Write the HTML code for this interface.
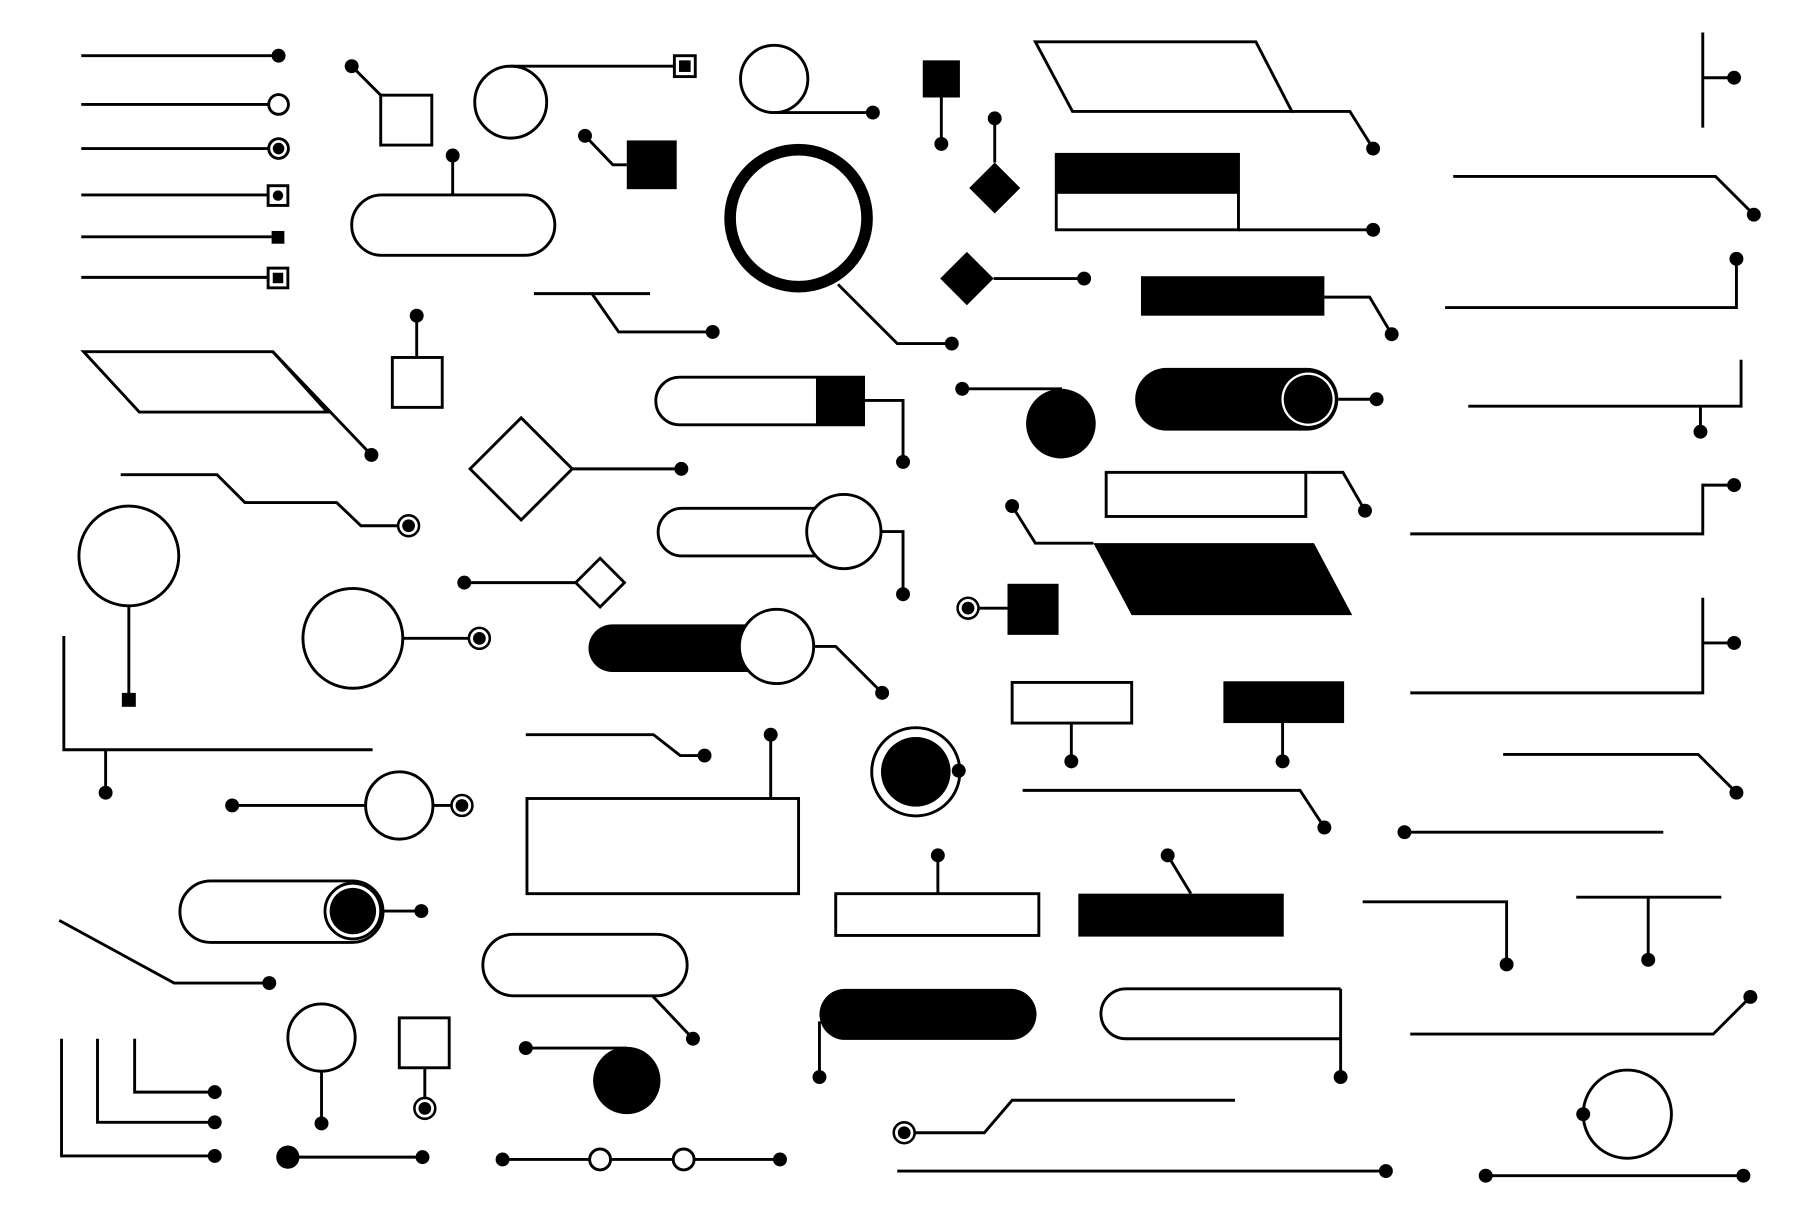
<!DOCTYPE html>
<html><head><meta charset="utf-8"><style>html,body{margin:0;padding:0;background:#fff}svg{display:block}</style></head>
<body>
<svg width="1820" height="1214" viewBox="0 0 1568 1046" preserveAspectRatio="none" xmlns="http://www.w3.org/2000/svg">
<defs>
<g id="d"><circle r="6" fill="#000"/></g>
<g id="m"><circle r="9" fill="#fff" stroke="#000" stroke-width="2.2"/><circle r="5.5" fill="#000"/></g>
</defs>
<g fill="none" stroke="#000" stroke-width="2.5">
<path d="M70 48H240M70 90H232M70 128H232M70 168H231M70 204H234M70 239H231"/>
<circle cx="240" cy="90" r="8.5" fill="#fff"/>
<rect x="231" y="160" width="17" height="17" fill="#fff"/>
<rect x="231" y="231" width="17" height="17" fill="#fff"/>
<path d="M303 57L328 82"/><rect x="328" y="82" width="44" height="43"/>
<circle cx="440" cy="88" r="31"/><path d="M440 57H582"/>
<rect x="581" y="48" width="18" height="18" fill="#fff"/>
<circle cx="667" cy="68" r="29"/><path d="M667 97H752"/>
<path d="M811 84V124M857 102V140"/>
<path d="M892 36H1082L1113 96H924Z"/><path d="M1113 96H1163L1183 128"/>
<path d="M1467 28V110M1467 67H1494"/>
<path d="M504 117L528 142H540"/>
<rect x="303" y="168" width="175" height="52" rx="26"/><path d="M390 134V168"/>
<circle cx="688" cy="188" r="59" stroke-width="10"/><path d="M722 245L773 296H820"/>
<rect x="910" y="133" width="157" height="65"/><path d="M1067 198H1183"/>
<path d="M1252 152H1478L1511 185"/>
<path d="M856 240H934"/>
<path d="M1141 256H1180L1199 288"/>
<path d="M1245 265H1496V223"/>
<path d="M460 253H560M510 253L533 286H614"/>
<path d="M359 272V308"/><rect x="338" y="308" width="43" height="43"/>
<path d="M72 303H235L282 355H120Z"/><path d="M235 303L320 392"/>
<path d="M744 325H585.5A20.5 20.5 0 0 0 585.5 366H744Z"/>
<path d="M744 345H778V398"/>
<path d="M829 335H915"/>
<path d="M1153 344H1186"/>
<path d="M1265 350H1500V310M1465 350V372"/>
<path d="M449 360L493 404L449 448L405 404Z"/><path d="M493 404H587"/>
<path d="M104 409H187L211 433H290L311 453H345"/>
<rect x="953" y="407" width="172" height="38"/><path d="M1125 407H1157L1176 440"/>
<path d="M1215 460H1467V418H1494"/>
<path d="M872 436L892 468H942"/>
<circle cx="111" cy="479" r="43"/><path d="M111 522V598"/>
<rect x="567" y="438" width="160" height="41" rx="20.5"/>
<circle cx="727" cy="458" r="32" fill="#fff"/><path d="M759 458H778V512"/>
<path d="M400 502H496"/><path d="M517 481L538 502L517 523L496 502Z"/>
<circle cx="304" cy="550" r="43"/><path d="M347 550H405"/>
<path d="M701 557H720L760 597"/>
<path d="M843 524H868"/>
<path d="M55 548V646H321M91 646V683"/>
<rect x="872" y="588" width="103" height="35"/><path d="M923 623V656M1105 623V656"/>
<path d="M1215 597H1467V515M1467 554H1494"/>
<path d="M453 633H563L586 651H607"/>
<path d="M664 633V688"/><rect x="454" y="688" width="234" height="82"/>
<circle cx="789" cy="665" r="38"/>
<path d="M1295 650H1463L1496 683"/>
<path d="M881 681H1120L1141 713"/>
<path d="M1210 717H1433"/>
<path d="M200 694H315"/><circle cx="344" cy="694" r="29"/><path d="M373 694H390"/>
<rect x="155" y="759" width="175" height="53" rx="26.5"/>
<circle cx="304" cy="785" r="24"/><path d="M330 785H363"/>
<path d="M808 737V770"/><rect x="720" y="770" width="175" height="36"/>
<path d="M1006 737L1026 770"/>
<path d="M1174 777H1298V831M1358 773H1483M1420 773V827"/>
<path d="M51 793L150 847H232"/>
<rect x="416" y="805" width="176" height="53" rx="26.5"/><path d="M562 858L597 895"/>
<path d="M706 880V928"/>
<path d="M1155 852H970A21.5 21.5 0 0 0 970 895H1155M1155 852V928"/>
<path d="M1215 891H1476L1508 859"/>
<path d="M53 895V996H185M84 895V967H185M116 895V941H185"/>
<circle cx="277" cy="894" r="29"/><path d="M277 923V968"/>
<rect x="344" y="877" width="43" height="43"/><path d="M366 920V946"/>
<path d="M453 903H540"/>
<path d="M788 976H848L872 948H1064"/>
<path d="M773 1009H1194"/>
<circle cx="1402" cy="960" r="38"/>
<path d="M1280 1013H1502"/>
<path d="M248 997H364"/>
<path d="M433 999H672"/>
</g>
<g fill="#000">
<use href="#d" x="240" y="48"/>
<circle cx="240" cy="128" r="8.5" fill="#fff" stroke="#000" stroke-width="2.5"/><circle cx="240" cy="128" r="5"/>
<circle cx="239.5" cy="168.5" r="4.5"/>
<rect x="234" y="199" width="11" height="11"/>
<rect x="235" y="235" width="9" height="9"/>
<use href="#d" x="303" y="57"/>
<rect x="585" y="52" width="10" height="10"/>
<use href="#d" x="752" y="97"/>
<rect x="795" y="52" width="32" height="32"/>
<use href="#d" x="811" y="124"/>
<use href="#d" x="857" y="102"/>
<path d="M857 140L879 162L857 184L835 162Z"/>
<use href="#d" x="1183" y="128"/>
<use href="#d" x="1494" y="67"/>
<use href="#d" x="504" y="117"/>
<rect x="540" y="121" width="43" height="42"/>
<use href="#d" x="390" y="134"/>
<use href="#d" x="820" y="296"/>
<rect x="910" y="133" width="157" height="34"/>
<use href="#d" x="1183" y="198"/>
<use href="#d" x="1511" y="185"/>
<path d="M833 217L856 240L833 263L810 240Z"/>
<use href="#d" x="934" y="240"/>
<rect x="983" y="238" width="158" height="34"/>
<use href="#d" x="1199" y="288"/>
<use href="#d" x="1496" y="223"/>
<use href="#d" x="614" y="286"/>
<use href="#d" x="359" y="272"/>
<use href="#d" x="320" y="392"/>
<rect x="703" y="325" width="41" height="41"/>
<use href="#d" x="778" y="398"/>
<use href="#d" x="829" y="335"/>
<circle cx="914" cy="365" r="30"/>
<rect x="978" y="317" width="175" height="54" rx="27"/>
<circle cx="1127" cy="344" r="23" fill="#fff"/><circle cx="1127" cy="344" r="21"/><circle cx="1127" cy="344" r="18.5"/>
<use href="#d" x="1186" y="344"/>
<use href="#d" x="1465" y="372"/>
<use href="#d" x="587" y="404"/>
<use href="#m" x="352" y="453"/>
<use href="#d" x="1176" y="440"/>
<use href="#d" x="1494" y="418"/>
<use href="#d" x="872" y="436"/>
<path d="M942 468H1132L1165 530H975Z"/>
<rect x="105" y="597" width="12" height="12"/>
<use href="#d" x="778" y="512"/>
<use href="#d" x="400" y="502"/>
<use href="#m" x="413" y="550"/>
<rect x="507" y="538" width="163" height="41" rx="20.5"/>
<circle cx="669" cy="557" r="32" fill="#fff" stroke="#000" stroke-width="2.5"/>
<use href="#d" x="760" y="597"/>
<use href="#m" x="834" y="524"/>
<rect x="868" y="503" width="44" height="44"/>
<use href="#d" x="91" y="683"/>
<use href="#d" x="923" y="656"/>
<rect x="1054" y="587" width="104" height="36"/>
<use href="#d" x="1105" y="656"/>
<use href="#d" x="1494" y="554"/>
<use href="#d" x="607" y="651"/>
<use href="#d" x="664" y="633"/>
<circle cx="789" cy="665" r="30"/>
<use href="#d" x="826" y="664"/>
<use href="#d" x="1496" y="683"/>
<use href="#d" x="1141" y="713"/>
<use href="#d" x="1210" y="717"/>
<use href="#d" x="200" y="694"/>
<use href="#m" x="398" y="694"/>
<circle cx="304" cy="785" r="20"/>
<use href="#d" x="363" y="785"/>
<use href="#d" x="808" y="737"/>
<use href="#d" x="1006" y="737"/>
<rect x="929" y="770" width="177" height="37"/>
<use href="#d" x="1298" y="831"/>
<use href="#d" x="1420" y="827"/>
<use href="#d" x="232" y="847"/>
<use href="#d" x="597" y="895"/>
<rect x="706" y="852" width="187" height="44" rx="22"/>
<use href="#d" x="706" y="928"/>
<use href="#d" x="1155" y="928"/>
<use href="#d" x="1508" y="859"/>
<use href="#d" x="185" y="996"/><use href="#d" x="185" y="967"/><use href="#d" x="185" y="941"/>
<use href="#d" x="277" y="968"/>
<use href="#m" x="366" y="955"/>
<use href="#d" x="453" y="903"/>
<circle cx="540" cy="931" r="29"/>
<use href="#m" x="779" y="976"/>
<use href="#d" x="1194" y="1009"/>
<use href="#d" x="1364" y="960"/>
<use href="#d" x="1280" y="1013"/><use href="#d" x="1502" y="1013"/>
<circle cx="248" cy="997" r="10"/>
<use href="#d" x="364" y="997"/>
<use href="#d" x="433" y="999"/><use href="#d" x="672" y="999"/>
<circle cx="517" cy="999" r="9" fill="#fff" stroke="#000" stroke-width="2.5"/>
<circle cx="589" cy="999" r="9" fill="#fff" stroke="#000" stroke-width="2.5"/>
</g>
</svg>
</body></html>
